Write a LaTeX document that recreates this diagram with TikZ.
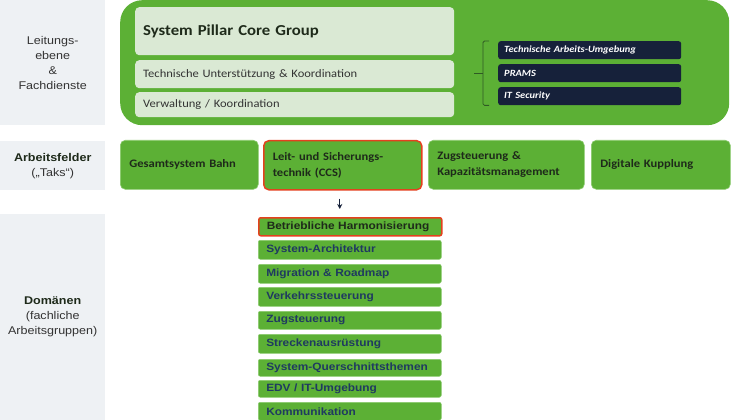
\documentclass[tikz,border=0pt]{standalone}
\usepackage{fontspec}
\setmainfont{Carlito}[FakeStretch=1.1]
\newfontfamily\arialfont{Liberation Sans}[FakeStretch=1.12]
\usetikzlibrary{arrows.meta,calc}
\definecolor{grn}{HTML}{5CB035}
\definecolor{grnedge}{HTML}{8CCB70}
\definecolor{ltgrn}{HTML}{DAE9D4}
\definecolor{navy}{HTML}{16213A}
\definecolor{graybg}{HTML}{EEF1F4}
\definecolor{labtxt}{HTML}{333333}
\definecolor{tktxt}{HTML}{1E2A1A}
\definecolor{domtxt}{HTML}{1F3A60}
\definecolor{redb}{HTML}{E4411E}
\definecolor{bracec}{HTML}{2F5A24}
\begin{document}
\begin{tikzpicture}[x=1pt,y=-1pt,
  lab/.style={fill=graybg, inner sep=0, anchor=north west, align=center,
    font=\arialfont\fontsize{11.2}{15}\selectfont, text=labtxt, minimum width=105},
  lt/.style={fill=ltgrn, rounded corners=4pt, anchor=north west, inner xsep=8pt,
    inner ysep=0, text width=303, align=left, text=labtxt,
    font=\fontsize{11.4}{13}\selectfont},
  dk/.style={fill=navy, rounded corners=2.5pt, anchor=north west, inner xsep=6pt,
    inner ysep=0, text width=171, minimum height=18, align=left, text=white,
    font=\bfseries\itshape\fontsize{9.5}{10}\selectfont},
  tk/.style={fill=grn, draw=grnedge, line width=0.6pt, rounded corners=5pt,
    anchor=north west, minimum height=49, inner xsep=9pt, inner ysep=0,
    align=left, text=tktxt, font=\bfseries\fontsize{11.4}{16}\selectfont},
  dm/.style={fill=grn, draw=grnedge, line width=0.5pt, rounded corners=2pt,
    anchor=north west, inner xsep=8pt, inner ysep=0, text width=167, align=left,
    text=domtxt, font=\arialfont\bfseries\fontsize{10.6}{12}\selectfont},
  redframe/.style={draw=redb, line width=1.5pt},
  bracestyle/.style={draw=bracec, line width=0.8pt, rounded corners=1.5pt},
  arr/.style={draw=navy, line width=1.2pt, -{Stealth[length=5pt,width=5pt]}}
]
\useasboundingbox (0,0) rectangle (732,420);

% left labels
\node[lab, minimum height=125] (L1) at (0,0) {Leitungs-\\ebene\\\&\\Fachdienste};
\node[lab, minimum height=49] (L2) at (0,141) {\textbf{\color{tktxt}Arbeitsfelder}\\(„Taks“)};
\node[lab, minimum height=206] (L3) at (0,214) {\textbf{\color{tktxt}Domänen}\\(fachliche\\Arbeitsgruppen)};

% core group
\node[fill=grn, rounded corners=22pt, anchor=north west, minimum width=609,
  minimum height=125, inner sep=0] (core) at (120,0) {};
\node[lt, minimum height=48, text=tktxt, font=\bfseries\fontsize{15.2}{17}\selectfont] (c1) at (135,7) {System Pillar Core Group};
\node[lt, minimum height=28] (c2) at (135,60) {Technische Unterstützung \& Koordination};
\node[lt, minimum height=25] (c3) at (135,92) {Verwaltung / Koordination};

\node[dk] (t1) at (498,41) {Technische Arbeits-Umgebung};
\node[dk] (t2) at (498,64) {PRAMS};
\node[dk] (t3) at (498,87) {IT Security};

\draw[bracestyle] ([xshift=-9pt]t1.north west) -- ([xshift=-15pt]t1.north west)
  -- ([xshift=-15pt]t3.south west) -- ([xshift=-9pt]t3.south west);
\draw[bracestyle] ([xshift=-15pt]t2.west) -- ([xshift=-24pt]t2.west);

% Arbeitsfelder
\node[tk, text width=120] (A) at (120,140) {Gesamtsystem Bahn};
\node[tk, redframe, text width=140] (B) at (263,140) {Leit- und Sicherungs-\\technik (CCS)};
\node[tk, text width=138] (C) at (428,140) {Zugsteuerung \&\\Kapazitätsmanagement};
\node[tk, text width=121] (D) at (591,140) {Digitale Kupplung};

% Domains
\node[dm, redframe, minimum height=18, text=tktxt] (d1) at (258,217) {Betriebliche Harmonisierung};
\node[dm, minimum height=19] (d2) at (258,240) {System-Architektur};
\node[dm, minimum height=19] (d3) at (258,264) {Migration \& Roadmap};
\node[dm, minimum height=19] (d4) at (258,287) {Verkehrssteuerung};
\node[dm, minimum height=18] (d5) at (258,311) {Zugsteuerung};
\node[dm, minimum height=19] (d6) at (258,334) {Streckenausrüstung};
\node[dm, minimum height=17] (d7) at (258,359) {System-Querschnittsthemen};
\node[dm, minimum height=17] (d8) at (258,380) {EDV / IT-Umgebung};
\node[dm, minimum height=18] (d9) at (258,402) {Kommunikation};

\draw[arr, shorten <=8pt, shorten >=8pt] ([xshift=-3pt]B.south) -- ([xshift=-3pt]B.south |- d1.north);
\end{tikzpicture}
\end{document}
